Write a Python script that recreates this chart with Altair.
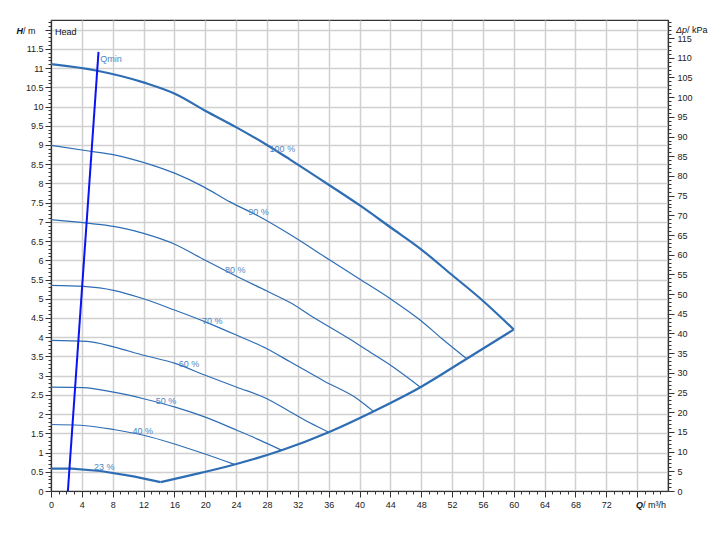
import altair as alt
import pandas as pd

# ---- data ----
Q100 = [0, 6.0, 12.1, 16.2, 20.0, 24.1, 28.0, 31.0, 36.2, 40.1, 44.0, 47.9, 51.8, 55.7, 60.0]
H100 = [11.10, 10.93, 10.62, 10.32, 9.89, 9.45, 9.00, 8.62, 7.94, 7.42, 6.86, 6.30, 5.65, 5.00, 4.20]

Q90 = [0, 5.3, 7.7, 10.7, 12.9, 16.1, 19.8, 23.2, 26.7, 31.0, 36.2, 40.1, 44.0, 47.9, 50.7, 53.9]
H90 = [8.99, 8.83, 8.76, 8.62, 8.49, 8.26, 7.91, 7.52, 7.17, 6.67, 6.00, 5.50, 5.00, 4.44, 3.96, 3.44]

Q80 = [0, 5.5, 9.0, 12.0, 15.9, 20.0, 24.1, 28.0, 31.0, 34.0, 39.0, 41.0, 44.4, 47.9]
H80 = [7.06, 6.95, 6.85, 6.70, 6.43, 6.00, 5.58, 5.20, 4.90, 4.52, 3.92, 3.66, 3.22, 2.70]

Q70 = [0, 4.2, 8.1, 12.0, 16.1, 20.0, 24.1, 28.0, 31.0, 35.5, 39.7, 41.8]
H70 = [5.35, 5.32, 5.22, 5.00, 4.70, 4.40, 4.05, 3.70, 3.36, 2.85, 2.40, 2.07]

Q60 = [0, 4.7, 8.1, 12.0, 16.1, 20.0, 24.1, 28.0, 31.0, 33.5, 36.0]
H60 = [3.92, 3.89, 3.75, 3.53, 3.32, 3.01, 2.70, 2.40, 2.06, 1.78, 1.53]

Q50 = [0, 4.2, 8.1, 12.0, 16.1, 20.0, 24.1, 27.0, 29.9]
H50 = [2.70, 2.69, 2.57, 2.40, 2.18, 1.92, 1.58, 1.33, 1.06]

Q40 = [0, 3.8, 8.1, 12.0, 15.9, 19.4, 23.8]
H40 = [1.73, 1.71, 1.60, 1.45, 1.23, 1.00, 0.69]

Q23 = [0, 2.7, 6.4, 10.7, 14.2]
H23 = [0.58, 0.58, 0.52, 0.38, 0.23]

QEND = [14.2, 19.4, 23.8, 29.9, 36.0, 41.8, 47.9, 53.9, 60.0]
HEND = [0.23, 0.47, 0.69, 1.06, 1.53, 2.07, 2.70, 3.44, 4.20]

QMIN_Q = [2.19, 6.16]
QMIN_H = [0.0, 11.42]

LABELS = ["100 %", "90 %", "80 %", "70 %", "60 %", "50 %", "40 %", "23 %"]
LABEL_Q = [30.0, 26.9, 23.9, 20.9, 17.9, 14.9, 11.9, 6.9]
LABEL_H = [8.89, 7.25, 5.74, 4.41, 3.30, 2.33, 1.55, 0.62]

CURVE = "#2e6db4"
LABEL_COL = "#4f86c3"
QMIN_COL = "#0a14f0"

H_MAX = 12.25
KPA_MAX = 119.6
Q_MAX = 80
W, HT = 617, 471

series = [
    ("100", Q100, H100, 2.2, CURVE, "monotone"),
    ("90", Q90, H90, 1.2, CURVE, "monotone"),
    ("80", Q80, H80, 1.2, CURVE, "monotone"),
    ("70", Q70, H70, 1.2, CURVE, "monotone"),
    ("60", Q60, H60, 1.2, CURVE, "monotone"),
    ("50", Q50, H50, 1.2, CURVE, "monotone"),
    ("40", Q40, H40, 1.2, CURVE, "monotone"),
    ("23", Q23, H23, 2.2, CURVE, "linear"),
    ("end", QEND, HEND, 2.2, CURVE, "monotone"),
    ("qmin", QMIN_Q, QMIN_H, 2.0, QMIN_COL, "linear"),
]
rows = []
for name, qs, hs, w, col, interp in series:
    for i, (q, h) in enumerate(zip(qs, hs)):
        rows.append(dict(series=name, q=q, h=h, w=w, col=col, ord=i, interp=interp))
df = pd.DataFrame(rows)
df_lab = pd.DataFrame({"q": LABEL_Q, "h": LABEL_H, "t": LABELS})

FONT = "Liberation Sans"

x_vals = list(range(0, 80))
y_vals = [round(i * 0.1, 1) for i in range(0, 123)]
k_vals = list(range(0, 120))

maj_x = "datum.value % 4 === 0"
maj_y = "abs(datum.value*2 - round(datum.value*2)) < 0.001"
maj_k = "datum.value % 5 === 0"

x_axis = alt.Axis(
    values=x_vals, title=None, grid=True, format="~g", orient="bottom",
    labelExpr=f"({maj_x} && datum.value <= 72) ? datum.label : ''",
    tickSize={"condition": {"test": maj_x, "value": 6}, "value": 3},
    gridOpacity={"condition": {"test": maj_x, "value": 1}, "value": 0},
    labelOverlap=False, labelFlush=False, labelPadding=3,
)
y_axis = alt.Axis(
    values=y_vals, title=None, grid=True, orient="left", format="~g",
    labelExpr=f"({maj_y} && datum.value < 11.9) ? datum.label : ''",
    tickSize={"condition": {"test": maj_y, "value": 6}, "value": 3},
    gridOpacity={"condition": {"test": maj_y, "value": 1}, "value": 0},
    labelOverlap=False, labelFlush=False, labelPadding=2,
)
k_axis = alt.Axis(
    values=k_vals, title=None, grid=False, orient="right", format="~g",
    labelExpr=f"({maj_k} && datum.value <= 115) ? datum.label : ''",
    tickSize={"condition": {"test": maj_k, "value": 6}, "value": 3},
    labelOverlap=False, labelFlush=False, labelPadding=3,
)

xs = alt.Scale(domain=[0, Q_MAX], nice=False, zero=False)
ys = alt.Scale(domain=[0, H_MAX], nice=False, zero=False)


def curve_layer(sub, interp, axis):
    return alt.Chart(sub).mark_line(clip=True, interpolate=interp).encode(
        x=alt.X("q:Q", scale=xs, axis=x_axis),
        y=alt.Y("h:Q", scale=ys, axis=axis),
        color=alt.Color("col:N", scale=None),
        strokeWidth=alt.StrokeWidth("w:Q", scale=None),
        detail="series:N",
        order="ord:Q",
    )


smooth = curve_layer(df[df["interp"] == "monotone"], "monotone", y_axis)
straight = curve_layer(df[df["interp"] == "linear"], "linear", None)

labels = alt.Chart(df_lab).mark_text(
    font=FONT, fontSize=9, color=LABEL_COL, align="center", baseline="middle"
).encode(
    x=alt.X("q:Q", scale=xs, axis=x_axis),
    y=alt.Y("h:Q", scale=ys, axis=None),
    text="t:N",
)

qmin_lab = alt.Chart(pd.DataFrame({"q": [6.4], "h": [11.24], "t": ["Qmin"]})).mark_text(
    font=FONT, fontSize=9, color=LABEL_COL, align="left", baseline="middle"
).encode(
    x=alt.X("q:Q", scale=xs, axis=x_axis),
    y=alt.Y("h:Q", scale=ys, axis=None),
    text="t:N",
)

kpa = alt.Chart(pd.DataFrame({"kpa": [0, KPA_MAX]})).mark_point(opacity=0).encode(
    y=alt.Y("kpa:Q", scale=alt.Scale(domain=[0, KPA_MAX], nice=False, zero=False), axis=k_axis),
)


def note(text, px, py, align="left", style="normal", weight="normal"):
    return alt.Chart(alt.Data(values=[{}])).mark_text(
        text=text, font=FONT, fontSize=9, color="#111", align=align,
        baseline="middle", fontStyle=style, fontWeight=weight,
    ).encode(x=alt.value(px), y=alt.value(py))


notes = [
    note("Head", 4, 11.5),
    note("H", -28, 10.7, align="right", style="italic", weight="bold"),
    note("/ m", -28, 10.7),
    note("Δp", 625, 10, style="italic"),
    note("/ kPa", 636, 10),
    note("Q", 592, 485, align="right", style="italic", weight="bold"),
    note("/ m³/h", 592, 485),
]

chart = alt.layer(smooth, straight, labels, qmin_lab, kpa, *notes).resolve_scale(
    y="independent"
).properties(
    width=W, height=HT,
    autosize=alt.AutoSizeParams(type="none"),
    padding={"left": 43, "top": 12, "right": 48, "bottom": 38},
    background="white",
).configure_view(
    stroke="#333", strokeWidth=1.2
).configure_axis(
    labelFont=FONT, labelFontSize=9, labelColor="#222",
    domainColor="#333", domainWidth=1.2, tickColor="#333", tickWidth=1,
    gridColor="#d0d0d0", gridWidth=1.5,
)

chart.save("out.html", embed_options={"renderer": "svg", "actions": False})
